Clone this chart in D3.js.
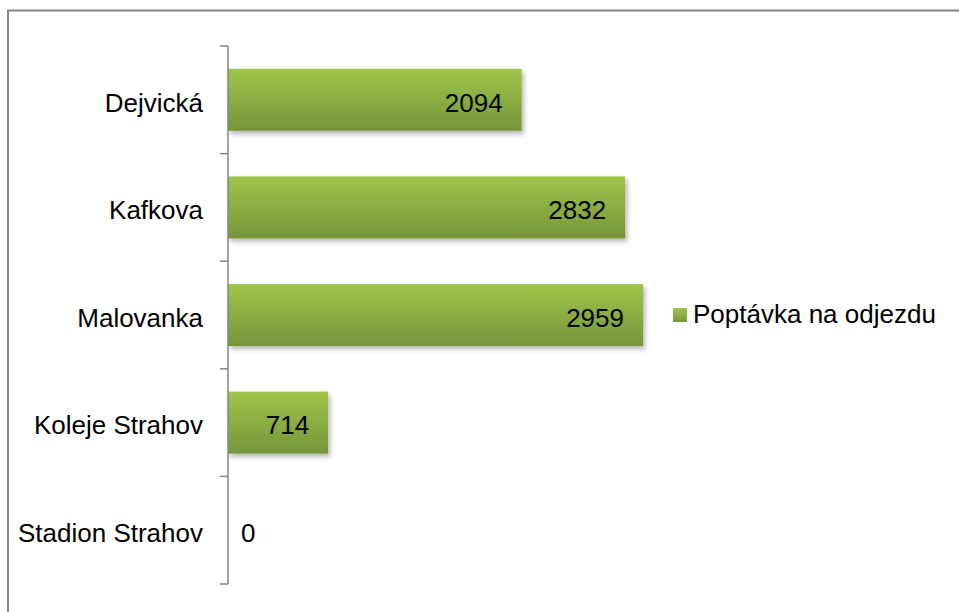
<!DOCTYPE html>
<html><head><meta charset="utf-8">
<script src="https://cdn.jsdelivr.net/npm/d3@7"></script>
<style>body{margin:0;background:#fff}svg{display:block}</style>
</head><body>
<script>
const categories = ["Dejvická","Kafkova","Malovanka","Koleje Strahov","Stadion Strahov"];
const values = [2094,2832,2959,714,0];
const seriesName = "Poptávka na odjezdu";

const W=959,H=612;
const FONT="Liberation Sans, Arial, sans-serif";
const svg=d3.select("body").append("svg").attr("width",W).attr("height",H);
const defs=svg.append("defs");
const g=defs.append("linearGradient").attr("id","grad").attr("x1",0).attr("y1",0).attr("x2",0).attr("y2",1);
g.append("stop").attr("offset","0%").attr("stop-color","#9ec64b");
g.append("stop").attr("offset","100%").attr("stop-color","#76953a");
const f=defs.append("filter").attr("id","sh").attr("x","-10%").attr("y","-20%").attr("width","130%").attr("height","150%");
f.append("feDropShadow").attr("dx",2).attr("dy",3).attr("stdDeviation",2.5).attr("flood-color","#000").attr("flood-opacity",0.3);

// chart border (top/left visible)
svg.append("path").attr("d","M8,612 V10.5 H959").attr("fill","none").attr("stroke","#868686").attr("stroke-width",2);

const x0=228;
const x=d3.scaleLinear().domain([0,3500]).range([x0,x0+3500*0.14025]);
const y=d3.scaleBand().domain(categories).range([46,584]).paddingInner(0.424).paddingOuter(0.212);

svg.selectAll("rect.bar").data(values).join("rect").attr("class","bar")
 .attr("x",x(0)).attr("y",(d,i)=>y(categories[i]))
 .attr("width",d=>x(d)-x(0)).attr("height",y.bandwidth())
 .attr("fill","url(#grad)").attr("filter",d=>d>0?"url(#sh)":null);

// axis
const ax=d3.axisLeft(y).tickSize(0).tickPadding(25);
const axG=svg.append("g").attr("transform",`translate(${x0},0)`).call(ax);
axG.select(".domain").remove();
axG.selectAll("text").attr("font-family",FONT).attr("font-size",26).attr("fill","#000").attr("dy","0.45em");
svg.append("line").attr("x1",x0).attr("x2",x0).attr("y1",46).attr("y2",584).attr("stroke","#868686").attr("stroke-width",1.5);
svg.selectAll("line.tk").data(d3.range(categories.length+1)).join("line").attr("class","tk")
 .attr("x1",x0-8).attr("x2",x0).attr("y1",i=>46+i*538/categories.length).attr("y2",i=>46+i*538/categories.length)
 .attr("stroke","#868686").attr("stroke-width",1.5);

// labels
svg.selectAll("text.lbl").data(values).join("text").attr("class","lbl")
 .attr("x",d=>d>0?x(d)-19:x(0)+13).attr("y",(d,i)=>y(categories[i])+y.bandwidth()/2)
 .attr("dy","0.45em").attr("text-anchor",d=>d>0?"end":"start")
 .attr("font-family",FONT).attr("font-size",26).attr("fill","#000")
 .text(d=>d);

// legend
const lg=svg.append("g").attr("transform","translate(673,308)");
lg.append("rect").attr("width",14).attr("height",14).attr("fill","url(#grad)");
lg.append("text").attr("x",20).attr("y",14.7)
 .attr("font-family",FONT).attr("font-size",26).attr("fill","#000").text(seriesName);
</script>
</body></html>
